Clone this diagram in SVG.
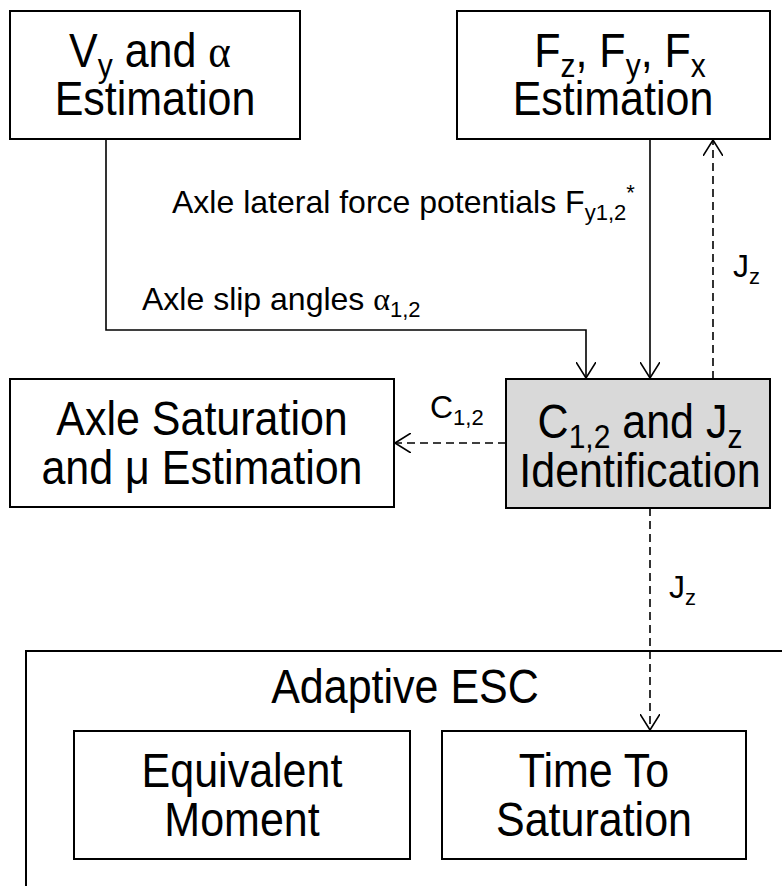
<svg xmlns="http://www.w3.org/2000/svg" width="782" height="886" viewBox="0 0 782 886">
<style>
.box{fill:#fff;stroke:#000;stroke-width:2}
.gray{fill:#d9d9d9}
.t{font-family:"Liberation Sans",Arial,sans-serif;font-size:43px;fill:#000;text-anchor:middle}
.l{font-family:"Liberation Sans",Arial,sans-serif;font-size:32px;fill:#000}
.sym{font-family:"Liberation Serif","Times New Roman",serif}
.c{fill:none;stroke:#000;stroke-width:1.6}
.d{stroke-dasharray:8,5}
</style>
<defs>
<marker id="ah" viewBox="0 0 16 20" refX="16" refY="10" markerWidth="16" markerHeight="20" markerUnits="userSpaceOnUse" orient="auto">
<path d="M0,0 L16,10 L0,20" fill="none" stroke="#000" stroke-width="1.6"/>
</marker>
</defs>
<rect x="0" y="0" width="782" height="886" fill="#fff"/>
<g id="adaptive-esc">
<rect class="box" x="26" y="651" width="800" height="300"/>
<text class="t" x="405" y="703" transform="matrix(1,0,0,1.1,0,-70.3)">Adaptive ESC</text>
</g>
<g id="vy-alpha">
<rect class="box" x="10" y="11" width="290" height="128"/>
<text class="t" x="150" y="67" transform="matrix(1,0,0,1.1,0,-6.7)">V<tspan font-size="30" dy="9">y</tspan><tspan dy="-9"> and </tspan><tspan class="sym">α</tspan></text>
<text class="t" x="155" y="115" transform="matrix(1,0,0,1.1,0,-11.5)">Estimation</text>
</g>
<g id="forces">
<rect class="box" x="457" y="11" width="313" height="128"/>
<text class="t" x="620" y="67" transform="matrix(1,0,0,1.1,0,-6.7)">F<tspan font-size="30" dy="9">z</tspan><tspan dy="-9">, F</tspan><tspan font-size="30" dy="9">y</tspan><tspan dy="-9">, F</tspan><tspan font-size="30" dy="9">x</tspan></text>
<text class="t" x="613" y="115" transform="matrix(1,0,0,1.1,0,-11.5)">Estimation</text>
</g>
<g id="identification">
<rect class="box gray" x="506" y="379" width="264" height="129"/>
<text class="t" x="640" y="438" transform="matrix(1,0,0,1.1,0,-43.8)">C<tspan font-size="30" dy="9">1,2</tspan><tspan dy="-9"> and J</tspan><tspan font-size="30" dy="9">z</tspan></text>
<text class="t" x="640" y="487" transform="matrix(1,0,0,1.1,0,-48.7)">Identification</text>
</g>
<g id="saturation">
<rect class="box" x="10" y="379" width="384" height="128"/>
<text class="t" x="202" y="435" transform="matrix(1,0,0,1.1,0,-43.5)">Axle Saturation</text>
<text class="t" x="202" y="484" transform="matrix(1,0,0,1.1,0,-48.4)">and μ Estimation</text>
</g>
<g id="equivalent-moment">
<rect class="box" x="74" y="731" width="336" height="128"/>
<text class="t" x="242" y="787" transform="matrix(1,0,0,1.1,0,-78.7)">Equivalent</text>
<text class="t" x="242" y="836" transform="matrix(1,0,0,1.1,0,-83.6)">Moment</text>
</g>
<g id="time-to-saturation">
<rect class="box" x="442" y="731" width="304" height="128"/>
<text class="t" x="594" y="787" transform="matrix(1,0,0,1.1,0,-78.7)">Time To</text>
<text class="t" x="594" y="836" transform="matrix(1,0,0,1.1,0,-83.6)">Saturation</text>
</g>
<g id="connectors">
<path class="c" d="M106,139 V330 H586 V378" marker-end="url(#ah)"/>
<path class="c" d="M650,139 V378" marker-end="url(#ah)"/>
<path class="c d" d="M713,379 V140" marker-end="url(#ah)"/>
<path class="c d" d="M506,443 H395" marker-end="url(#ah)"/>
<path class="c d" d="M650,508 V730" marker-end="url(#ah)"/>
<text class="l" x="172" y="213">Axle lateral force potentials F<tspan font-size="22" dy="7">y1,2</tspan><tspan font-size="22" dy="-20">*</tspan></text>
<text class="l" x="142" y="310">Axle slip angles <tspan class="sym">α</tspan><tspan font-size="22" dy="7">1,2</tspan></text>
<text class="l" x="430" y="418">C<tspan font-size="22" dy="7">1,2</tspan></text>
<text class="l" x="733" y="277">J<tspan font-size="22" dy="7">z</tspan></text>
<text class="l" x="669" y="598">J<tspan font-size="22" dy="7">z</tspan></text>
</g>
</svg>
